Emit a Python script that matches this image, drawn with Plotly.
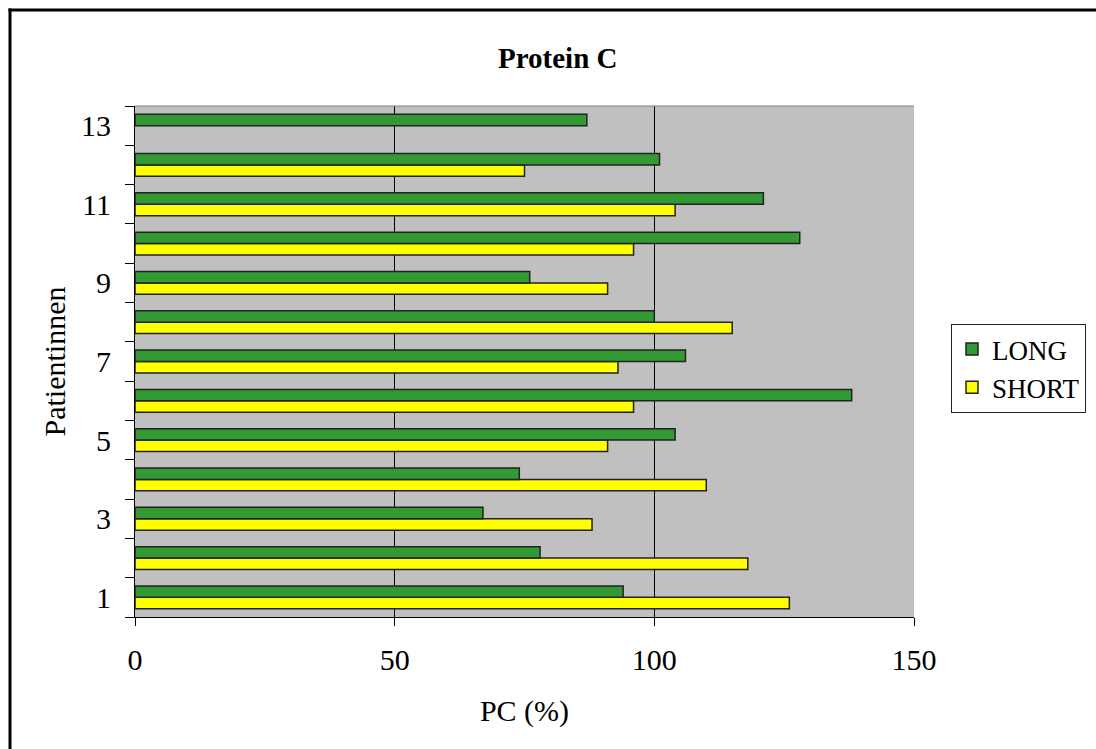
import plotly.graph_objects as go

patients = list(range(1, 14))
long_vals = [94, 78, 67, 74, 104, 138, 106, 100, 76, 128, 121, 101, 87]
short_vals = [126, 118, 88, 110, 91, 96, 93, 115, 91, 96, 104, 75, None]
x_ticks = [0, 50, 100, 150]
y_label_vals = [1, 3, 5, 7, 9, 11, 13]

W, H = 1096, 749
L, R, T, B = 135, 914, 106, 617
pw, ph = R - L, B - T


def px(x):
    return (x - L) / pw


def py(y):
    return (B - y) / ph


FONT = "Liberation Serif, Times New Roman, serif"
FS = 30

fig = go.Figure()
fig.add_trace(go.Bar(
    y=patients, x=short_vals, orientation="h", name="SHORT",
    marker=dict(color="#FFFF00", line=dict(color="#222222", width=1.5)),
    legendrank=2,
))
fig.add_trace(go.Bar(
    y=patients, x=long_vals, orientation="h", name="LONG",
    marker=dict(color="#339933", line=dict(color="#222222", width=1.5)),
    legendrank=1,
))

fig.update_layout(
    width=W, height=H,
    margin=dict(l=L, r=W - R, t=T, b=H - B, autoexpand=False),
    paper_bgcolor="white",
    plot_bgcolor="#C0C0C0",
    barmode="group",
    bargap=0.42,
    bargroupgap=0,
    font=dict(family=FONT, size=FS, color="black"),
    showlegend=True,
    legend=dict(
        x=px(951), y=py(324), xanchor="left", yanchor="top",
        bordercolor="#222222", borderwidth=1, bgcolor="white",
        font=dict(family=FONT, size=27),
        tracegroupgap=0,
    ),
    xaxis=dict(
        range=[0, 150], tickvals=x_ticks, ticks="outside", ticklen=8,
        tickcolor="black", showgrid=True, gridcolor="black", gridwidth=1,
        showline=True, linecolor="black", linewidth=1, zeroline=False,
        ticklabelstandoff=8,
        tickfont=dict(family=FONT, size=FS),
        title=dict(text="PC (%)", font=dict(family=FONT, size=FS), standoff=24),
    ),
    yaxis=dict(
        range=[0.5, 13.5], tickmode="array", tickvals=y_label_vals,
        ticktext=[str(v) for v in y_label_vals], ticks="",
        showgrid=False, zeroline=False, showline=True, linecolor="black",
        linewidth=1, ticklabelstandoff=17,
        tickfont=dict(family=FONT, size=FS),
        minor=dict(tickmode="array", tickvals=[i + 0.5 for i in range(0, 14)],
                   ticks="outside", ticklen=9, tickcolor="black", showgrid=False),
        title=dict(text="Patientinnen", font=dict(family=FONT, size=FS), standoff=6),
    ),
)

fig.add_annotation(
    x=px(557), y=py(58), xref="paper", yref="paper", text="<b>Protein C</b>",
    showarrow=False, font=dict(family=FONT, size=29, color="black"),
    xanchor="center", yanchor="middle",
)

# top gray edge of plot area
fig.add_shape(type="line", xref="paper", yref="paper", x0=0, x1=1, y0=1, y1=1,
              line=dict(color="#808080", width=1))
# outer chart border (only left and top edges are visible in the reference)
fig.add_shape(type="line", xref="paper", yref="paper",
              x0=px(10), x1=px(10), y0=py(8.5), y1=py(749),
              line=dict(color="black", width=3), layer="above")
fig.add_shape(type="line", xref="paper", yref="paper",
              x0=px(8.5), x1=px(1096), y0=py(10), y1=py(10),
              line=dict(color="black", width=3), layer="above")

fig.write_html("out.html")
